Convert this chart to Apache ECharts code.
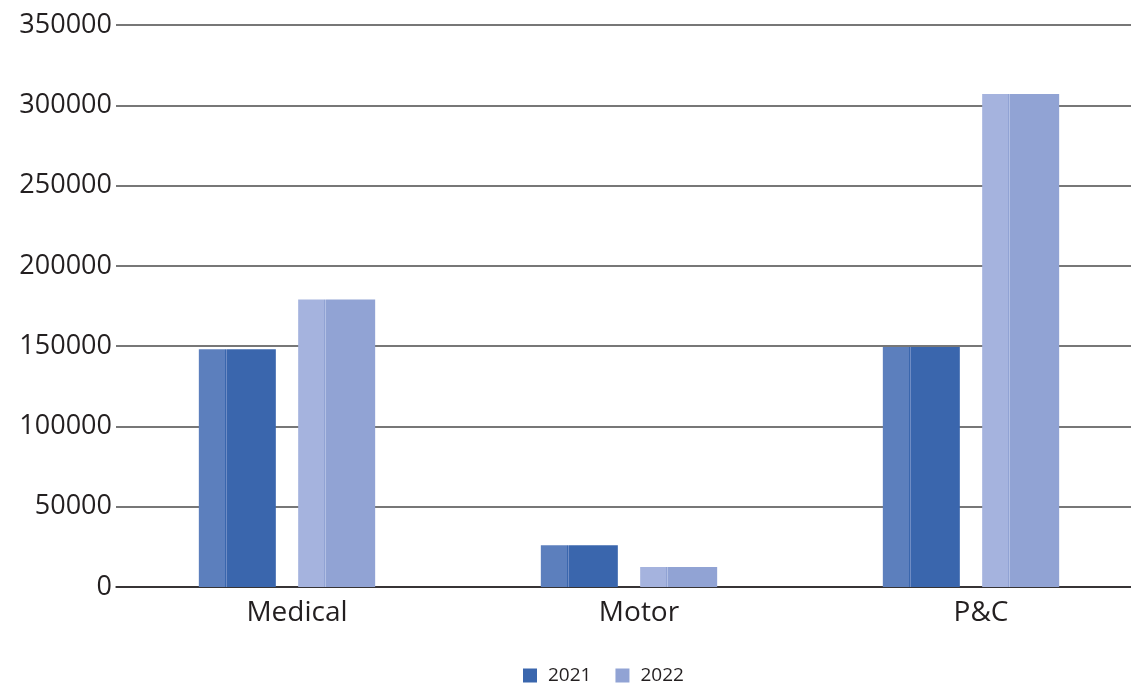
<!DOCTYPE html>
<html>
<head>
<meta charset="utf-8">
<script src="https://cdn.jsdelivr.net/npm/echarts@6/dist/echarts.min.js"></script>
<style>
  html, body { margin: 0; padding: 0; background: #ffffff; }
  #chart { width: 1131px; height: 684px; }
</style>
</head>
<body>
<div id="chart"></div>
<script>
// Premiums by line of business, two years
const categories = ['Medical', 'Motor', 'P&C'];
const years = ['2021', '2022'];
const values2021 = [148000, 26000, 149500];
const values2022 = [179000, 12500, 307000];
const yTicks = [0, 50000, 100000, 150000, 200000, 250000, 300000, 350000];

// Faceted bar fill: lighter left face, a thin edge line, then the front face
function facet(light, main, edge) {
  return {
    type: 'linear', x: 0, y: 0, x2: 1, y2: 0,
    colorStops: [
      { offset: 0, color: light },
      { offset: 0.34, color: light },
      { offset: 0.341, color: main },
      { offset: 0.352, color: main },
      { offset: 0.353, color: edge },
      { offset: 0.365, color: edge },
      { offset: 0.366, color: main },
      { offset: 1, color: main }
    ]
  };
}

const textColor = '#231f20';
const chart = echarts.init(document.getElementById('chart'));
chart.setOption({
  animation: false,
  backgroundColor: '#ffffff',
  textStyle: { fontFamily: 'Open Sans' },
  grid: {
    left: 116, width: 1026, top: 25, height: 562,
    containLabel: false, outerBoundsMode: 'none'
  },
  legend: {
    data: [
      { name: years[0], itemStyle: { color: '#3a66ad' } },
      { name: years[1], itemStyle: { color: '#91a3d4' } }
    ],
    top: 661,
    left: 518,
    itemWidth: 14,
    itemHeight: 14,
    itemGap: 24,
    icon: 'rect',
    textStyle: { color: textColor, fontSize: 19, fontFamily: 'Open Sans', padding: [0, 0, 0, 6] }
  },
  xAxis: {
    type: 'category',
    data: categories,
    axisTick: { show: false },
    axisLine: { lineStyle: { color: '#231f20', width: 1.5 } },
    axisLabel: {
      color: textColor,
      fontSize: 28,
      margin: 12,
      padding: [0, 0, 0, 20],
      fontFamily: 'Open Sans'
    }
  },
  yAxis: {
    type: 'value',
    min: 0,
    max: 350000,
    interval: 50000,
    axisLine: { show: false },
    axisTick: { show: false },
    axisLabel: {
      color: textColor,
      fontSize: 27,
      margin: 4,
      fontFamily: 'Open Sans',
      formatter: v => (yTicks.includes(v) ? String(v) : '')
    },
    splitLine: { lineStyle: { color: '#4a4a4a', width: 1.5 } }
  },
  series: [
    {
      name: years[0],
      type: 'bar',
      data: values2021,
      barWidth: 77,
      barGap: '29%',
      color: '#3a66ad',
      itemStyle: { color: facet('#5c7fbd', '#3a66ad', '#6f8cc4') }
    },
    {
      name: years[1],
      type: 'bar',
      data: values2022,
      barWidth: 77,
      color: '#91a3d4',
      itemStyle: { color: facet('#a5b3de', '#91a3d4', '#b3c0e4') }
    }
  ]
});
</script>
</body>
</html>
